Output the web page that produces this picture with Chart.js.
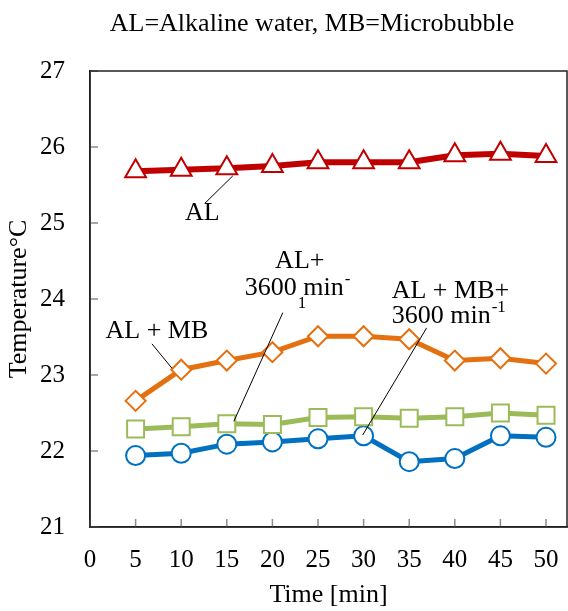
<!DOCTYPE html>
<html>
<head>
<meta charset="utf-8">
<script src="https://cdn.jsdelivr.net/npm/chart.js@4.4.0/dist/chart.umd.min.js"></script>
<style>
  html, body { margin: 0; padding: 0; background: #fff; }
</style>
</head>
<body>
<canvas id="chart" width="568" height="611"></canvas>
<script>
// Data
const times = [5, 10, 15, 20, 25, 30, 35, 40, 45, 50];
const al = [25.68, 25.70, 25.72, 25.75, 25.80, 25.80, 25.80, 25.89, 25.91, 25.88];
const alMb = [22.66, 23.07, 23.19, 23.30, 23.51, 23.51, 23.47, 23.19, 23.22, 23.15];
const al3600 = [22.29, 22.32, 22.36, 22.35, 22.44, 22.45, 22.43, 22.45, 22.50, 22.47];
const alMb3600 = [21.94, 21.97, 22.09, 22.12, 22.16, 22.20, 21.86, 21.90, 22.20, 22.18];
const xTicks = [0, 5, 10, 15, 20, 25, 30, 35, 40, 45, 50];
const yTicks = [21, 22, 23, 24, 25, 26, 27];

const FONT = "'Liberation Serif', 'Times New Roman', serif";

function pts(ys) {
    return times.map((t, i) => ({ x: t, y: ys[i] }));
}

// Callout labels, placed in data units
const labels = [
    { text: 'AL', x: 12.32, y: 25.04, align: 'center' },
    { text: 'AL + MB', x: 7.34, y: 23.49, align: 'center' },
    { text: 'AL+', x: 23.0, y: 24.41, align: 'center' },
    { text: '3600 min', x: 16.98, y: 24.05, align: 'left', sup: '-', subAfter: '3600', sub: '1' },
    { text: 'AL + MB+', x: 33.08, y: 24.01, align: 'left' },
    { text: '3600 min', x: 33.08, y: 23.68, align: 'left', sup: '-1' }
];
const leaders = [
    [12.6, 25.26, 15.66, 25.62],
    [6.79, 23.41, 8.98, 23.09],
    [21.14, 23.82, 15.77, 22.39],
    [36.91, 23.62, 29.9, 22.21]
];

const framePlugin = {
    id: 'frame',
    beforeDatasetsDraw(chart) {
        const { ctx, chartArea: a, scales } = chart;
        ctx.save();
        ctx.strokeStyle = '#8c8c8c';
        ctx.lineWidth = 1.5;
        ctx.beginPath();
        xTicks.forEach(v => {
            const px = scales.x.getPixelForValue(v);
            ctx.moveTo(px, a.bottom);
            ctx.lineTo(px, a.bottom - 8);
        });
        yTicks.forEach(v => {
            const py = scales.y.getPixelForValue(v);
            ctx.moveTo(a.left, py);
            ctx.lineTo(a.left + 8, py);
        });
        ctx.stroke();
        ctx.strokeStyle = '#222';
        ctx.lineWidth = 1.5;
        ctx.strokeRect(a.left, a.top, a.right - a.left, a.bottom - a.top);
        ctx.restore();
    },
    afterDraw(chart) {
        const { ctx, scales } = chart;
        const sx = v => scales.x.getPixelForValue(v);
        const sy = v => scales.y.getPixelForValue(v);
        ctx.save();
        // title
        ctx.fillStyle = '#000';
        ctx.font = '26px ' + FONT;
        ctx.textAlign = 'center';
        ctx.textBaseline = 'alphabetic';
        ctx.fillText('AL=Alkaline water, MB=Microbubble', 312, 31);

        ctx.strokeStyle = '#000';
        ctx.lineWidth = 1;
        ctx.beginPath();
        leaders.forEach(l => {
            ctx.moveTo(sx(l[0]), sy(l[1]));
            ctx.lineTo(sx(l[2]), sy(l[3]));
        });
        ctx.stroke();

        labels.forEach(l => {
            const px = sx(l.x), py = sy(l.y);
            ctx.font = '26px ' + FONT;
            ctx.textAlign = l.align;
            ctx.fillText(l.text, px, py);
            const left = l.align === 'center' ? px - ctx.measureText(l.text).width / 2 : px;
            const w = ctx.measureText(l.text).width;
            if (l.subAfter) {
                const w2 = ctx.measureText(l.subAfter).width;
                ctx.font = '17px ' + FONT;
                ctx.textAlign = 'left';
                ctx.fillText(l.sub, left + w2 + 1, py + 13);
            }
            if (l.sup) {
                ctx.font = '17px ' + FONT;
                ctx.textAlign = 'left';
                ctx.fillText(l.sup, left + w + 1, py - 11);
            }
        });
        ctx.restore();
    }
};

new Chart(document.getElementById('chart'), {
    type: 'line',
    data: {
        datasets: [
            {
                label: 'AL',
                data: pts(al),
                borderColor: '#c00000',
                borderWidth: 6,
                pointStyle: 'triangle',
                pointRadius: 12,
                pointBorderWidth: 2,
                pointBackgroundColor: '#fff',
                pointBorderColor: '#c00000'
            },
            {
                label: 'AL + MB',
                data: pts(alMb),
                borderColor: '#e4700f',
                borderWidth: 5,
                pointStyle: 'rectRot',
                pointRadius: 10,
                pointBorderWidth: 2,
                pointBackgroundColor: '#fff',
                pointBorderColor: '#e4700f'
            },
            {
                label: 'AL + 3600 min-1',
                data: pts(al3600),
                borderColor: '#9bbb59',
                borderWidth: 5,
                pointStyle: 'rect',
                pointRadius: 12,
                pointBorderWidth: 2,
                pointBackgroundColor: '#fff',
                pointBorderColor: '#9bbb59'
            },
            {
                label: 'AL + MB + 3600 min-1',
                data: pts(alMb3600),
                borderColor: '#0070c0',
                borderWidth: 5,
                pointStyle: 'circle',
                pointRadius: 9.5,
                pointBorderWidth: 2,
                pointBackgroundColor: '#fff',
                pointBorderColor: '#0070c0'
            }
        ]
    },
    options: {
        responsive: false,
        animation: false,
        layout: { autoPadding: false, padding: { top: 71, right: 1, left: 0, bottom: 0 } },
        plugins: {
            legend: { display: false },
            tooltip: { enabled: false }
        },
        scales: {
            x: {
                type: 'linear',
                min: 0,
                max: 52.3,
                afterBuildTicks: s => { s.ticks = xTicks.map(v => ({ value: v })); },
                afterFit: s => { s.height = 84; s.paddingLeft = 0; s.paddingRight = 0; },
                grid: { display: false, drawTicks: false },
                border: { display: true, color: '#222', width: 1.5 },
                ticks: {
                    padding: 18,
                    color: '#000',
                    font: { family: FONT, size: 25 }
                },
                title: {
                    display: true,
                    text: 'Time [min]',
                    color: '#000',
                    font: { family: FONT, size: 26 },
                    padding: { top: 0, bottom: 0 }
                }
            },
            y: {
                min: 21,
                max: 27,
                afterBuildTicks: s => { s.ticks = yTicks.map(v => ({ value: v })); },
                afterFit: s => { s.width = 90; s.paddingTop = 0; s.paddingBottom = 0; },
                grid: { display: false, drawTicks: false },
                border: { display: true, color: '#222', width: 1.5 },
                ticks: {
                    padding: 25,
                    color: '#000',
                    font: { family: FONT, size: 25 }
                },
                title: {
                    display: true,
                    text: 'Temperature°C',
                    color: '#000',
                    font: { family: FONT, size: 26 },
                    padding: { top: 4, bottom: 0 }
                }
            }
        }
    },
    plugins: [framePlugin]
});
</script>
</body>
</html>
